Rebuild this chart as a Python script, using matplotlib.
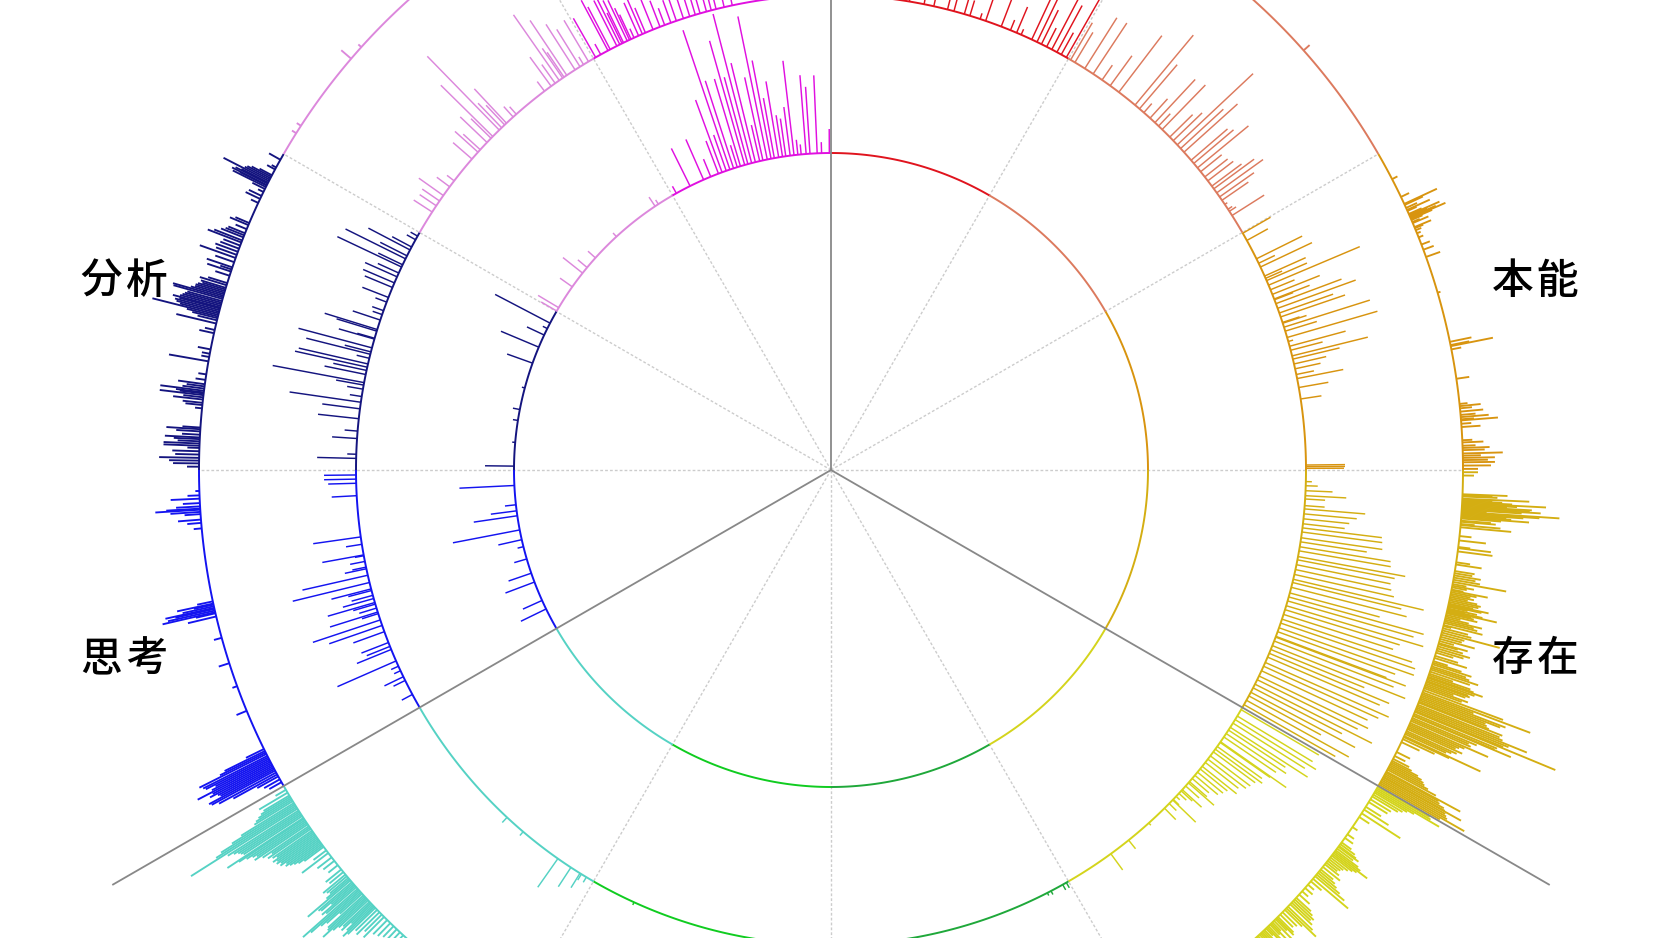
import numpy as np
import matplotlib
matplotlib.use("Agg")
import matplotlib.pyplot as plt
from matplotlib.collections import LineCollection

plt.rcParams['font.family'] = ['Noto Sans CJK JP', 'DejaVu Sans']

# one colour per 30 degree sector, clockwise from the top
sector_colors = ['#e0141e', '#dc7a5e', '#d8940f', '#d4ae12', '#d4d41c', '#1fa83a',
                 '#10cc20', '#55d2c4', '#1414f0', '#14147f', '#dc88dc', '#e010e0']

ring_radii = [317, 475, 632]
solid_angles = [0, 120, 240]
dashed_angles = [30, 60, 90, 150, 180, 210, 270, 300, 330]
labels = ['本能', '存在', '思考', '分析']
label_x = [704, 704, -707, -707]
label_y = [189, -189, -189, 189]

# (angle in degrees, spike length)
inner_spikes = [
    (333.6, 42), (336.3, 44), (337.7, 19), (339.9, 77), (339.2, 35), (342.1, 92), (341.4, 147), (340.7, 38),
    (343.4, 91), (344.2, 129), (344.8, 90), (345.5, 154), (346.2, 102), (342.8, 23), (347.6, 85), (348.4, 146),
    (349.1, 100), (347, 37), (350.5, 77), (349.7, 61), (351.2, 42), (351.8, 38), (352.6, 49), (353.3, 95),
    (354, 15), (355.5, 79), (354.6, 10), (356.2, 67), (357.5, 78), (358.3, 11), (359.7, 24),
    (330.8, 8), (326.3, 11), (327, 5), (317.4, 5), (312, 10), (309.7, 12), (308.4, 25), (305.3, 15), (300.8, 24), (300.1, 18),
    (297.6, 62), (295.2, 19), (296.5, 5), (292.8, 41), (289.7, 27), (285, 3), (281, 7), (279, 5), (275, 3), (270.7, 29),
    (267.2, 55), (263.7, 11), (262.6, 26), (261.7, 44), (259.1, 68), (257.3, 24), (256, 6), (253.7, 13), (251, 24),
    (249.3, 31), (245.7, 21), (244, 28),
]

middle_spikes = [
    # red
    (29.7, 70), (28.4, 53), (27.7, 60), (29, 25), (26.3, 38), (25.7, 55), (25, 50), (27, 21), (23, 28), (22.2, 11),
    (23.6, 6), (21, 32), (19, 25), (18.3, 6), (17, 16), (16.3, 15), (15, 12), (14.2, 10), (12.5, 8), (11.3, 6), (9.5, 5), (8.7, 4),
    # salmon
    (30.3, 43), (30.9, 35), (32.3, 60), (33.5, 61), (34.8, 18), (36, 37), (37.3, 71), (39.8, 91), (40.5, 58), (41.2, 12),
    (42.2, 26), (43, 59), (43.6, 17), (44.2, 62), (45.5, 32), (46.1, 40), (46.8, 104), (47.4, 58), (48, 72), (49.3, 48),
    (49.8, 52), (50.5, 66), (51.1, 27), (51.9, 29), (52.5, 32), (53.3, 37), (53.7, 50), (54.3, 57), (54.9, 42), (55.4, 32),
    (56, 3), (56.7, 5), (57, 8), (57.6, 38),
    # orange
    (60.1, 32), (61.1, 24), (63.6, 51), (64.7, 57), (64.2, 18), (67.1, 99), (65.9, 45), (66.5, 44), (68.3, 51), (67.7, 26),
    (69.5, 70), (70.1, 83), (70.7, 57), (71.2, 68), (72.5, 90), (73.8, 94), (71.9, 18), (73, 33), (74.9, 58), (76.1, 78),
    (74.3, 5), (75.4, 33), (76.5, 48), (77.1, 33), (77.7, 26), (78.4, 18), (78.9, 47), (80, 30), (81.4, 21),
    (66.2, 18), (69, 20), (72, 25), (68.9, 38),
    # gold
    (89.4, 39), (89.6, 39), (89.8, 38),
    (91.4, 6), (91.9, 12), (92.5, 27), (93.1, 41), (93.5, 20), (94.3, 20), (94.7, 61), (95.3, 53), (95.9, 46), (96.5, 42),
    (97, 80), (97.5, 81), (98.2, 82), (98.7, 67), (99.3, 92), (99.8, 93), (100.5, 109), (100.9, 99), (101.5, 96), (102.1, 98),
    (102.7, 102), (103.3, 134), (103.7, 112), (104.3, 119), (105, 93), (105.5, 140), (106, 131), (106.6, 143), (107.1, 120),
    (107.7, 115), (108.3, 137), (108.8, 142), (109.4, 143), (109.9, 125), (110.5, 118), (110.6, 139), (111.1, 128), (111.7, 143),
    (112.2, 101), (112.7, 130), (113.2, 122), (113.9, 135), (114.4, 126), (115, 117), (115.7, 121), (116.2, 112), (116.8, 131),
    (117.3, 100), (117.9, 118), (118.4, 82), (119, 117), (119.6, 105),
    # yellow
    (120.3, 90), (121.2, 88), (121.7, 95), (122.2, 85), (122.8, 92), (123.2, 68), (123.7, 72), (124.2, 63), (124.9, 80), (125, 61),
    (125.6, 55), (126, 58), (126.4, 52), (127, 50), (127.5, 48), (128, 42), (128.6, 44), (129, 35), (129.5, 33), (130, 30),
    (130.5, 22), (131, 23), (131.2, 34), (131.7, 18), (132.3, 26), (132.5, 15), (132.9, 10), (133.4, 5), (133.9, 8), (134, 32),
    (134.6, 10), (135.4, 16), (138, 3), (141.2, 11), (143.9, 20),
    # greens
    (150.3, 6), (150.8, 6), (152.4, 4), (152.9, 3), (204.5, 3),
    # turquoise
    (215.1, 35), (213.2, 23), (211.9, 17), (211.7, 7), (211, 6), (223, 7), (220.4, 5),
    # blue
    (269.4, 32), (268.9, 32), (268.4, 28), (266.9, 25), (261.9, 48), (261, 16), (259.7, 42), (259.6, 9), (258.9, 15), (258.2, 14),
    (258, 22), (257.2, 67), (256.3, 79), (255.5, 41), (255.3, 24), (254.7, 22), (254.3, 32), (253.6, 23), (253.8, 49), (253.1, 18),
    (252.4, 17), (252.6, 50), (251.6, 71), (250.9, 56), (250.1, 33), (248.7, 29), (247.8, 37), (248.2, 25), (246.3, 64), (245.6, 8),
    (244.2, 21), (243.7, 13), (241.8, 12), (245, 7),
    # navy
    (271.4, 39), (271.9, 9), (273.8, 25), (274.7, 13), (276.2, 41), (277.4, 38), (278.2, 72), (278.9, 12), (280.3, 28), (279.8, 16),
    (280.6, 93), (281.6, 42), (282.5, 74), (282.9, 71), (282.1, 34), (284.1, 66), (284.4, 27), (283.6, 13), (284.9, 76), (286, 37),
    (286.1, 18), (287.2, 55), (287, 42), (288.4, 29), (289.6, 12), (289.1, 10), (291.3, 28), (290.7, 12), (293.2, 34), (294, 35),
    (292.6, 30), (294.5, 23), (295.3, 71), (295.6, 27), (296.4, 67), (297.6, 47), (296.8, 30), (298, 22), (299, 10), (299.5, 8),
    # orchid
    (302.9, 22), (303.8, 20), (304.5, 21), (305.3, 30), (306.6, 16), (307.5, 9), (310.9, 25), (312, 31), (312.4, 23), (313.6, 37),
    (314.3, 28), (314.6, 73), (315.7, 103), (316.9, 47), (316.1, 34), (316.6, 27), (318, 14), (318.5, 10), (323.9, 36), (322.9, 12),
    (324.5, 23), (325.1, 80), (326.2, 66), (325.6, 36), (327.4, 54), (325.8, 30), (328.1, 44), (329.3, 48), (328.6, 9),
    # magenta
    (330.3, 45), (331, 12), (332, 57), (332.3, 48), (333.2, 51), (333.6, 50), (334.1, 47), (333.9, 34), (334.9, 35), (335.1, 27),
    (334.6, 45), (336.1, 36), (335.5, 10), (336.6, 38), (337, 27), (338, 32), (338.9, 28), (339.5, 18), (340.3, 24), (341, 23),
    (341.9, 20), (342.7, 18), (343.4, 16), (344, 15), (344.8, 13), (345.4, 12), (346, 11), (347, 9), (348, 8),
]

outer_spikes = [
    (48.4, 8),
    # orange
    (62.6, 6), (64.4, 9), (65.1, 36), (65.2, 20), (65.7, 25), (66.2, 33), (66.5, 38), (66.4, 28), (66.3, 19), (66.6, 23),
    (67, 17), (67.4, 18), (67.5, 9), (67.7, 6), (68, 4), (66.9, 8), (65.8, 10), (65.5, 12), (66.1, 14), (66.7, 12),
    (68.4, 5), (69.1, 9), (69.6, 11), (70.3, 15), (73.7, 3), (78.7, 43), (78.3, 22), (78.6, 19), (79, 10), (81.7, 13),
    (84.2, 21), (84.7, 23), (85, 15), (85.4, 13), (85.5, 37), (85.2, 28), (86.1, 19), (87.5, 21), (87.8, 13), (88, 27), (88.5, 40),
    (88.9, 32), (89.3, 32), (89.6, 28), (89.9, 15), (88.7, 18), (87.3, 10), (84, 8), (84.4, 12), (85.8, 10), (88.2, 22), (89.1, 25),
    # gold
    (90.2, 15), (90.5, 11), (92.2, 45), (92.6, 67), (93, 84), (93.4, 68), (93.5, 79), (93.2, 45), (93.8, 98), (93.9, 78), (94.3, 68),
    (94.2, 50), (92.8, 40), (92.7, 30), (93.7, 25), (94.6, 30), (95.2, 51), (95, 40), (94.9, 14), (92.4, 35), (93.1, 55), (93.6, 60),
    (94, 62), (94.1, 45), (94.4, 40), (94.7, 35), (92.3, 30), (92.9, 50), (93.3, 70),
    (96, 12), (96.4, 27), (97, 12), (97.1, 33), (97.4, 35), (98.6, 26), (98.4, 14), (99.6, 27), (99.8, 22), (100.2, 54), (100, 27),
    (101, 37), (100.7, 15), (101.6, 18), (101.9, 32), (102.2, 25), (102.3, 41), (102.9, 51), (102.5, 20), (103.7, 38), (104.2, 40),
    (103.4, 15), (104.3, 8), (104.9, 60), (106.4, 34), (105.3, 22), (106, 20), (107.9, 41), (108.4, 50), (107.6, 15), (109.2, 58),
    (109.6, 46), (110.2, 40), (100.4, 14), (100.9, 12), (101.3, 20), (102.7, 18), (103, 25), (105.7, 15), (106.8, 18), (108.8, 25), (109.9, 30),
    (99.2, 20), (99.4, 18), (100.55, 22), (101.15, 26), (101.45, 24), (101.75, 28), (102.05, 30), (102.4, 34), (102.65, 30), (102.8, 36),
    (103.1, 28), (103.25, 32), (103.55, 24), (103.85, 30), (104, 34), (104.5, 26), (104.7, 30), (105.1, 24), (105.5, 36), (105.9, 30),
    (106.2, 26), (106.6, 28), (107.1, 24), (107.3, 34), (107.75, 30), (108.1, 36), (108.25, 40), (108.6, 42), (108.95, 44), (109.1, 48),
    (109.35, 50), (109.5, 44), (109.75, 42), (110.05, 46),
    (110.4, 85), (110.6, 115), (110.75, 55), (110.9, 90), (111.05, 85), (111.2, 70), (111.35, 72), (111.5, 75), (111.6, 90), (111.8, 88),
    (111.95, 92), (112.1, 119), (112.25, 100), (112.4, 95), (112.5, 152), (112.7, 90), (112.85, 88), (112.9, 106), (113.1, 70), (113.25, 62),
    (113.4, 65), (113.6, 85), (113.75, 60), (113.9, 55), (114.05, 52), (114.2, 60), (114.4, 55), (114.55, 50), (114.7, 45), (114.9, 84),
    (115, 50), (115.2, 35), (115.5, 20), (116.5, 15), (116.9, 12), (117.2, 18), (117.4, 22),
    (117.55, 30), (117.7, 35), (117.85, 38), (118, 40), (118.15, 45), (118.3, 55), (118.5, 84), (118.6, 60), (118.75, 62), (118.9, 68),
    (119.05, 70), (119.1, 89), (119.25, 72), (119.4, 74), (119.55, 76), (119.7, 97), (119.85, 70),
    # yellow
    (120.1, 60), (120.25, 62), (120.4, 73), (120.55, 45), (120.7, 38), (120.9, 34), (121.1, 30), (121.4, 24), (121.7, 22), (122.2, 18),
    (122.5, 29), (122.9, 46), (123.3, 12), (124.4, 6), (125.2, 8), (125.6, 10),
    (126.1, 12), (126.3, 18), (126.5, 21), (126.6, 25), (126.8, 20), (127, 28), (127.15, 32), (127.3, 42), (127.45, 30), (127.6, 26),
    (127.8, 22), (128, 18), (128.2, 16), (128.4, 14), (128.6, 18), (128.9, 22), (129.2, 16), (129.4, 20), (129.6, 24), (129.8, 30),
    (130, 38), (130.3, 46), (130.6, 14), (131, 8), (131.4, 10), (131.8, 8), (132.2, 14), (132.6, 20), (132.8, 24), (133, 28),
    (133.2, 26), (133.4, 30), (133.7, 34), (133.9, 41), (134.1, 24), (134.4, 20), (134.7, 18), (135, 22), (135.3, 16), (135.7, 12),
    (136, 14), (136.5, 10), (137, 8), (137.5, 6),
    (135.15, 24), (135.5, 28), (135.85, 30), (136.2, 34), (136.35, 40), (136.7, 44), (136.85, 38), (137.15, 46), (137.3, 42), (137.65, 36),
    # turquoise
    (222.6, 18), (223, 22), (223.4, 26), (223.8, 15), (224.2, 18), (224.6, 20), (225, 29), (225.3, 24), (225.6, 32), (225.9, 30),
    (226.15, 38), (226.3, 43), (226.45, 36), (226.6, 28), (226.75, 40), (226.9, 36),
    (227.1, 40), (227.25, 46), (227.4, 58), (227.55, 50), (227.7, 48), (227.9, 30), (228.05, 46), (228.2, 52), (228.35, 64), (228.5, 73), (228.7, 40),
    (228.85, 44), (229, 30), (229.15, 42), (229.3, 44), (229.5, 56), (229.65, 30), (229.8, 24), (230, 26), (230.2, 29), (230.5, 18), (230.8, 20),
    (231.3, 12), (231.8, 14), (232.2, 18), (232.7, 33), (233, 16), (233.4, 24), (233.55, 30),
    (233.7, 34), (233.85, 38), (234, 42), (234.15, 40), (234.3, 46), (234.45, 44), (234.6, 48), (234.75, 46), (234.9, 50), (235.05, 44),
    (235.2, 48), (235.4, 52), (235.55, 46), (235.7, 56), (235.9, 64), (236.05, 60), (236.2, 64), (236.35, 70), (236.5, 78), (236.6, 91),
    (236.8, 70), (236.95, 72), (237.1, 74), (237.25, 78), (237.4, 84), (237.6, 126), (237.75, 95), (237.9, 88), (238.05, 74), (238.2, 62),
    (238.4, 45), (238.55, 42), (238.7, 38), (238.85, 34), (239, 30), (239.3, 33), (239.6, 12),
    # blue
    (240.4, 14), (240.7, 18), (241, 24), (241.2, 50), (241.4, 65), (241.6, 72), (241.75, 74), (241.9, 60), (242.05, 62), (242.2, 70),
    (242.35, 66), (242.5, 82), (242.65, 65), (242.8, 60), (242.95, 70), (243.1, 72), (243.3, 75), (243.45, 51), (243.6, 45), (243.8, 20),
    (247.6, 11), (250, 5), (252.2, 11), (254.6, 8),
    (256.6, 29), (256.9, 20), (257, 54), (257.15, 48), (257.3, 40), (257.4, 50), (257.55, 32), (257.7, 20), (257.8, 37), (258, 16),
    (264.7, 8), (265.2, 14), (265.5, 23), (266, 16), (266.2, 30), (266.4, 45), (266.5, 34), (266.7, 24), (267, 17), (267.4, 29), (267.7, 12), (268.1, 4),
    # navy
    (270.3, 12), (270.6, 26), (270.85, 30), (271.1, 40), (271.4, 24), (271.7, 27), (272, 12), (272.2, 36), (272.4, 36), (272.6, 22),
    (272.8, 26), (272.95, 35), (273.2, 18), (273.5, 24), (273.7, 34), (273.85, 18), (275.6, 7), (275.9, 17), (276.1, 20), (276.4, 30),
    (276.6, 20), (276.8, 44), (276.95, 24), (277.05, 28), (277.2, 44), (277.4, 22), (277.6, 18), (277.8, 27), (278.2, 10), (278.7, 8),
    (279.9, 40), (280.3, 8), (280.6, 8), (281, 13), (282.5, 15), (282.8, 10), (283.4, 41), (283.7, 20), (283.9, 26),
    (284.05, 32), (284.2, 68), (284.35, 40), (284.5, 44), (284.65, 46), (284.8, 42), (284.9, 49), (285.05, 42), (285.2, 40), (285.35, 38),
    (285.5, 36), (285.7, 51), (285.85, 52), (286, 34), (286.15, 30), (286.3, 30), (286.45, 28), (286.6, 24), (286.75, 26), (287, 28), (287.2, 20),
    (287.9, 15), (288.3, 25), (288.5, 12), (288.7, 27), (289.2, 20), (289.6, 38), (289.9, 22), (290.2, 24), (290.5, 20), (290.8, 18),
    (291.1, 36), (291.3, 30), (291.6, 24), (291.8, 20), (292, 18), (292.4, 12), (292.8, 20), (293, 15), (295, 8), (295.4, 16), (295.7, 14),
    (296.1, 6), (296.4, 14), (296.6, 37), (296.75, 30), (296.8, 39), (296.95, 36), (297.05, 30), (297.2, 51), (297.35, 28), (297.5, 26), (297.65, 22),
    (297.8, 14), (298.4, 9), (298.6, 5), (299.4, 13),
    # orchid
    (302.2, 5), (303, 5), (310.6, 13), (312, 4),
]

fig = plt.figure(figsize=(16.6, 9.38), dpi=100)
ax = fig.add_axes([0, 0, 1, 1])
ax.set_xlim(-831, 829)
ax.set_ylim(-468, 470)
ax.axis('off')


def polar(angle, radius):
    a = np.radians(angle)
    return radius * np.sin(a), radius * np.cos(a)


# dashed spokes stop at the outer ring, the solid ones run further
for angle in dashed_angles:
    x, y = polar(angle, ring_radii[2])
    ax.plot([0, x], [0, y], color='#cccccc', lw=1.0, ls=(0, (2, 1.5)), zorder=1)

# the outer ring is packed tighter, so its spikes are drawn a little wider
spike_widths = [1.05, 1.05, 1.35]
for radius, spikes, width in zip(ring_radii, [inner_spikes, middle_spikes, outer_spikes], spike_widths):
    segs = []
    cols = []
    for angle, length in spikes:
        segs.append([polar(angle, radius), polar(angle, radius + length)])
        cols.append(sector_colors[int(angle // 30) % 12])
    ax.add_collection(LineCollection(segs, colors=cols, linewidths=width, zorder=2))
    for i, col in enumerate(sector_colors):
        t = np.linspace(i * 30, (i + 1) * 30, 60)
        x, y = polar(t, radius)
        ax.plot(x, y, color=col, lw=1.4, zorder=3, solid_capstyle='butt')

for angle in solid_angles:
    x, y = polar(angle, 829)
    ax.plot([0, x], [0, y], color='#888888', lw=1.3, zorder=4)

for text, x, y in zip(labels, label_x, label_y):
    ax.text(x - 22.5, y, text[0], fontsize=30, fontweight='medium', ha='center', va='center', color='black')
    ax.text(x + 22.5, y, text[1], fontsize=30, fontweight='medium', ha='center', va='center', color='black')

fig.savefig('out.png', dpi=100)
